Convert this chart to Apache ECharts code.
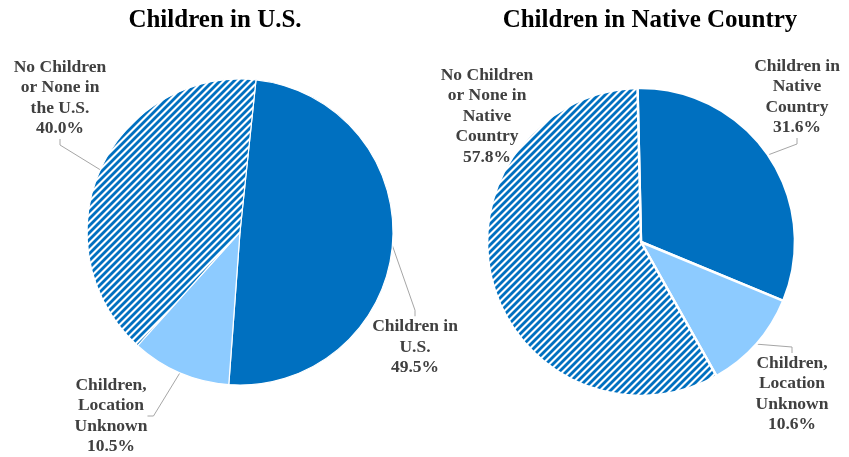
<!DOCTYPE html>
<html>
<head>
<meta charset="utf-8">
<script src="https://cdn.jsdelivr.net/npm/echarts@6/dist/echarts.min.js"></script>
<style>
  html, body { margin: 0; padding: 0; background: #fff; }
  #chart { width: 849px; height: 457px; }
</style>
</head>
<body>
<div id="chart"></div>
<script>
// Share of respondents by where their children live
const titles = ['Children in U.S.', 'Children in Native Country'];

const usCategories = ['Children in\nU.S.', 'Children,\nLocation\nUnknown', 'No Children\nor None in\nthe U.S.'];
const usValues = [49.5, 10.5, 40.0];

const nativeCategories = ['Children in\nNative\nCountry', 'Children,\nLocation\nUnknown', 'No Children\nor None in\nNative\nCountry'];
const nativeValues = [31.6, 10.6, 57.8];

// Label anchor points (pixel centres of each text block), per pie / slice
const labelSpots = [
  [[415, 347], [111, 416], [60, 98]],
  [[797, 97], [792, 394], [487, 116]]
];

const DARK = '#0070C0';
const LIGHT = '#8DCBFF';
const FONT = '"Liberation Serif", "Times New Roman", serif';

// Diagonal stripe fill for the "no children" slices
function stripeTile() {
  const s = 7;
  const c = document.createElement('canvas');
  c.width = s; c.height = s;
  const g = c.getContext('2d');
  g.fillStyle = '#ffffff';
  g.fillRect(0, 0, s, s);
  g.strokeStyle = DARK;
  g.lineWidth = s / Math.SQRT2 * 0.58;
  for (let k = -1; k <= 1; k++) {
    g.beginPath();
    g.moveTo(k * s - 1, s + 1);
    g.lineTo(k * s + s + 1, -1);
    g.stroke();
  }
  return c;
}
const stripes = { image: stripeTile(), repeat: 'repeat' };
const fills = [DARK, LIGHT, stripes];

function buildData(names, values) {
  return names.map((n, i) => ({
    name: n,
    value: values[i],
    itemStyle: { color: fills[i] }
  }));
}

function pieSeries(names, values, center, radius, startAngle, border, seriesIdx) {
  return {
    type: 'pie',
    center: center,
    radius: radius,
    startAngle: startAngle,
    clockwise: true,
    animation: false,
    silent: true,
    data: buildData(names, values),
    itemStyle: { borderColor: '#ffffff', borderWidth: border },
    label: {
      show: true,
      formatter: p => p.name + '\n' + p.value.toFixed(1) + '%',
      color: '#404040',
      fontFamily: FONT,
      fontWeight: 'bold',
      fontSize: 17.5,
      lineHeight: 20.5,
      align: 'center',
      overflow: 'none'
    },
    labelLine: {
      show: true,
      length: 8,
      length2: 6,
      lineStyle: { color: '#a6a6a6', width: 1 }
    },
    labelLayout: function (params) {
      const p = labelSpots[seriesIdx][params.dataIndex];
      return {
        x: p[0],
        y: p[1],
        align: 'center',
        verticalAlign: 'middle',
        hideOverlap: false
      };
    }
  };
}

const chart = echarts.init(document.getElementById('chart'), null, { renderer: 'canvas' });

const s2 = pieSeries(nativeCategories, nativeValues, [641, 242], 154, 91.3, 2.5, 1);
s2.data[2].labelLine = { show: false };

chart.setOption({
  backgroundColor: '#ffffff',
  animation: false,
  title: [
    {
      text: titles[0], left: 210, top: 3, textAlign: 'center',
      textStyle: { fontFamily: FONT, fontWeight: 'bold', fontSize: 25, color: '#000000' }
    },
    {
      text: titles[1], left: 645, top: 3, textAlign: 'center',
      textStyle: { fontFamily: FONT, fontWeight: 'bold', fontSize: 25, color: '#000000' }
    }
  ],
  series: [
    pieSeries(usCategories, usValues, [240, 232], 153, 84, 1.2, 0),
    s2
  ]
});
</script>
</body>
</html>
